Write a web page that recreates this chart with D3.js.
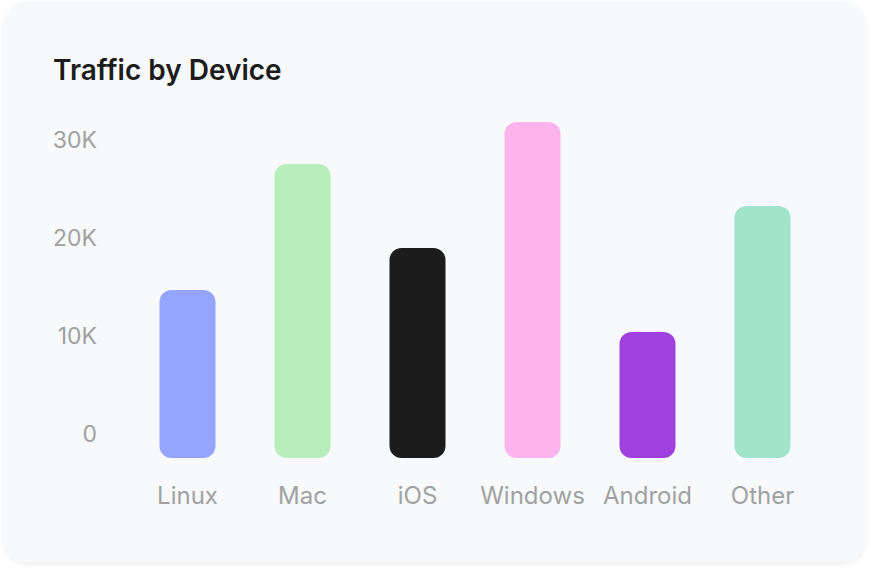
<!DOCTYPE html>
<html>
<head>
<meta charset="utf-8">
<script src="https://cdn.jsdelivr.net/npm/d3@7"></script>
<style>
  html, body { margin: 0; padding: 0; background: #ffffff; }
  svg { display: block; }
</style>
</head>
<body>
<svg id="chart" width="871" height="568"></svg>
<script>
const categories = ["Linux", "Mac", "iOS", "Windows", "Android", "Other"];
const values = [14600, 27450, 18880, 31730, 10300, 23160];
const colors = ["#95A4FC", "#BAEDBD", "#1C1C1C", "#FDB3EC", "#A040DF", "#A1E3CB"];
const tickValues = [0, 10000, 20000, 30000];
const tickLabels = ["0", "10K", "20K", "30K"];
const title = "Traffic by Device";

const svg = d3.select("#chart");
const font = "Inter, 'Noto Sans', sans-serif";

const defs = svg.append("defs");
const f = defs.append("filter").attr("id", "shadow").attr("x", "-5%").attr("y", "-5%").attr("width", "110%").attr("height", "115%");
f.append("feDropShadow").attr("dx", 0).attr("dy", 2).attr("stdDeviation", 3).attr("flood-color", "#000").attr("flood-opacity", 0.07);

svg.append("rect")
  .attr("x", 4).attr("y", 2).attr("width", 861).attr("height", 560)
  .attr("rx", 24).attr("fill", "#F7F9FB").attr("filter", "url(#shadow)");

svg.append("text")
  .attr("x", 53).attr("y", 80)
  .attr("font-family", font).attr("font-size", 28).attr("font-weight", 600)
  .attr("fill", "#1C1C1C").text(title);

const x = d3.scaleBand().domain(categories).range([130, 820]).paddingInner(0.513).paddingOuter(0.2565);
const y = d3.scaleLinear().domain([0, 30000]).range([433, 139]);
const barExtend = 25;

const yAxis = d3.axisLeft(y).tickValues(tickValues).tickSize(0).tickPadding(0)
  .tickFormat((d, i) => tickLabels[i]);
const gy = svg.append("g").attr("transform", "translate(97,0)").call(yAxis);
gy.select(".domain").remove();
gy.selectAll("text")
  .attr("font-family", font).attr("font-size", 23)
  .attr("fill", "#A0A1A2").attr("dy", "0.35em");

svg.append("g").selectAll("rect").data(categories).join("rect")
  .attr("x", d => x(d))
  .attr("y", (d, i) => y(values[i]))
  .attr("width", x.bandwidth())
  .attr("height", (d, i) => y(0) + barExtend - y(values[i]))
  .attr("rx", 12)
  .attr("fill", (d, i) => colors[i]);

const xAxis = d3.axisBottom(x).tickSize(0).tickPadding(0);
const gx = svg.append("g").attr("transform", "translate(0,504)").call(xAxis);
gx.select(".domain").remove();
gx.selectAll("text")
  .attr("font-family", font).attr("font-size", 24)
  .attr("fill", "#A0A1A2").attr("dy", 0).attr("y", 0);
</script>
</body>
</html>
